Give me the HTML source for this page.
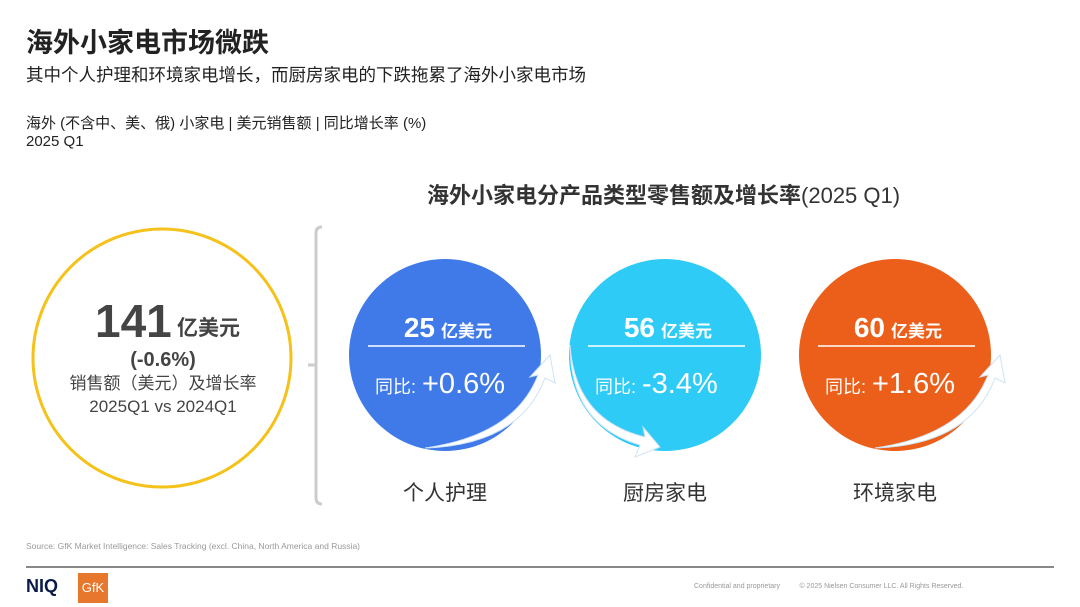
<!DOCTYPE html>
<html><head><meta charset="utf-8"><style>
body{margin:0;width:1080px;height:607px;background:#fff;overflow:hidden;font-family:"Liberation Sans","Noto Sans CJK SC",sans-serif;}
.t{position:absolute;white-space:nowrap;}
</style></head><body>
<div class="t" style="left:26px;top:21px;font-size:27px;font-weight:bold;color:#222">海外小家电市场微跌</div>
<div class="t" style="left:26px;top:62px;font-size:17.5px;color:#222">其中个人护理和环境家电增长，而厨房家电的下跌拖累了海外小家电市场</div>
<div class="t" style="left:26px;top:115px;font-size:15px;color:#222;line-height:18px">海外 (不含中、美、俄) 小家电 | 美元销售额 | 同比增长率 (%)<br>2025 Q1</div>
<div class="t" style="left:427px;top:178px;font-size:22px;font-weight:bold;color:#333">海外小家电分产品类型零售额及增长率<span style="font-weight:normal">(2025 Q1)</span></div>
<svg id="c" width="1080" height="607" style="position:absolute;left:0;top:0"></svg>
<div class="t" style="left:26px;top:541px;font-size:8.5px;color:#999">Source: GfK Market Intelligence: Sales Tracking (excl. China, North America and Russia)</div>
<div style="position:absolute;left:26px;top:566px;width:1028px;height:2px;background:#888"></div>
<div class="t" style="left:26px;top:576px;font-size:18px;font-weight:bold;color:#0a1a4a">NIQ</div>
<div style="position:absolute;left:78px;top:573px;width:30px;height:30px;background:#e8772e;color:#fff;font-size:13px;line-height:30px;text-align:center">GfK</div>
<div class="t" style="left:694px;top:583px;font-size:7px;color:#999">Confidential and proprietary &nbsp;&nbsp;&nbsp;&nbsp;&nbsp;&nbsp;&nbsp;&nbsp; © 2025 Nielsen Consumer LLC. All Rights Reserved.</div>
<script>
const categories=["个人护理","厨房家电","环境家电"];
const sales=[25,56,60];
const growth=["+0.6%","-3.4%","+1.6%"];
const colors=["#3f7ae8","#2ecbf7","#ec5f1a"];
const total=141, totalGrowth="(-0.6%)";
const svg=document.getElementById('c');
const NS="http://www.w3.org/2000/svg";
function mk(t,a,txt){const e=document.createElementNS(NS,t);for(const k in a)e.setAttribute(k,a[k]);if(txt!=null)e.textContent=txt;svg.appendChild(e);return e;}
let e=mk('circle',{cx:162,cy:358,r:129,fill:'none',stroke:'#f4c21a','stroke-width':3});

e=mk('text',{x:95,y:337,'font-size':46,'font-weight':'bold',fill:'#444'},total);

e=mk('text',{x:177,y:335,'font-size':21,'font-weight':'bold',fill:'#444'},'亿美元');

e=mk('text',{x:163,y:366,'font-size':20,'font-weight':'bold',fill:'#444','text-anchor':'middle'},totalGrowth);

e=mk('text',{x:163,y:389,'font-size':17,fill:'#444','text-anchor':'middle'},'销售额（美元）及增长率');

e=mk('text',{x:163,y:412,'font-size':17,fill:'#444','text-anchor':'middle'},'2025Q1 vs 2024Q1');

e=mk('path',{d:'M322,227 Q316,227 316,233 L316,498 Q316,504 322,504',fill:'none',stroke:'#ccc','stroke-width':3});

e=mk('line',{x1:308,y1:365,x2:316,y2:365,stroke:'#ccc','stroke-width':3});

const cxs=[445,665,895], cy=355, r=96;
categories.forEach((c,i)=>{
 const x=cxs[i];
 let el=mk('circle',{cx:x,cy:cy,r:r,fill:colors[i]});
 
 const up=growth[i][0]!=='-';
 const ad=up?`M${x-20},${cy+93} Q${x+70},${cy+80} ${x+93},${cy+20} L${x+85},${cy+22} L${x+105},${cy} L${x+110},${cy+28} L${x+100},${cy+23} Q${x+75},${cy+90} ${x-20},${cy+93} Z`
  :`M${x-95},${cy-10} Q${x-90},${cy+65} ${x-20},${cy+82} L${x-22},${cy+72} L${x-5},${cy+92} L${x-30},${cy+102} L${x-25},${cy+90} Q${x-95},${cy+70} ${x-95},${cy-10} Z`;
 el=mk('path',{d:ad,fill:'#fff',stroke:'#cfe3f5','stroke-width':1});
 
 el=mk('text',{x:x-10,y:cy-18,'font-size':28,'font-weight':'bold',fill:'#fff','text-anchor':'end'},sales[i]);
 
 el=mk('text',{x:x-4,y:cy-18,'font-size':17,'font-weight':'bold',fill:'#fff'},'亿美元');
 
 el=mk('line',{x1:x-77,y1:cy-9,x2:x+80,y2:cy-9,stroke:'#fff','stroke-width':1.5});
 
 el=mk('text',{x:x-70,y:cy+38,'font-size':18,fill:'#fff'},'同比:');
 
 el=mk('text',{x:x-23,y:cy+38,'font-size':29,fill:'#fff'},growth[i]);
 
 el=mk('text',{x:x,y:500,'font-size':21,fill:'#333','text-anchor':'middle'},c);
 
});
</script>
</body></html>
